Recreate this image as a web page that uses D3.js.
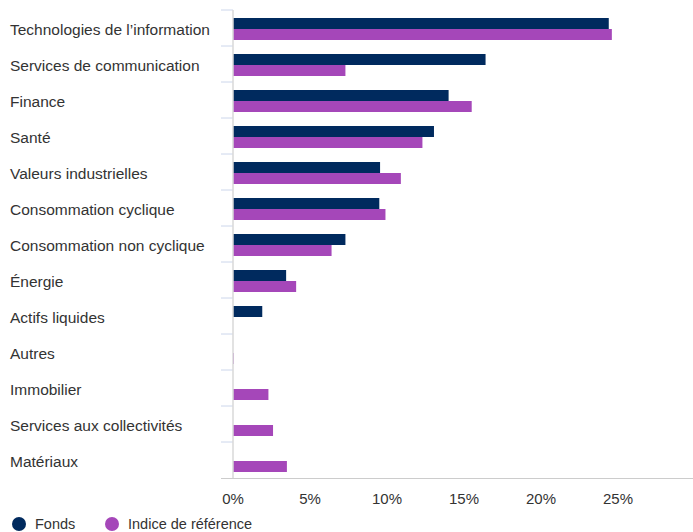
<!DOCTYPE html>
<html>
<head>
<meta charset="utf-8">
<script src="https://cdn.jsdelivr.net/npm/d3@7"></script>
<style>
  body { margin: 0; background: #fff; }
  text { font-family: "Liberation Sans", Arial, sans-serif; }
</style>
</head>
<body>
<div id="chart"></div>
<script>
// chart size
const width = 693,
      height = 532;

// data
const categories = [
    "Technologies de l\u2019information", "Services de communication", "Finance", "Santé",
    "Valeurs industrielles", "Consommation cyclique", "Consommation non cyclique", "Énergie",
    "Actifs liquides", "Autres", "Immobilier", "Services aux collectivités", "Matériaux"
];
const fonds = [24.4, 16.4, 14.0, 13.05, 9.55, 9.5, 7.3, 3.45, 1.9, 0, 0, 0, 0];
const indice = [24.6, 7.3, 15.5, 12.3, 10.9, 9.9, 6.4, 4.1, 0, 0.05, 2.3, 2.6, 3.5];
const seriesNames = ["Fonds", "Indice de référence"];
const seriesColors = ["#002A5E", "#A547B9"];
const xTicks = [0, 5, 10, 15, 20, 25];

const margin = { top: 10, right: 0, bottom: 54, left: 233 };

const svg = d3.select("#chart").append("svg")
    .attr("width", width)
    .attr("height", height);

const x = d3.scaleLinear()
    .domain([0, 30])
    .range([margin.left, margin.left + 462]);

const y = d3.scaleBand()
    .domain(categories)
    .range([margin.top, height - margin.bottom]);

const inner = d3.scaleBand()
    .domain([0, 1])
    .range([8, 30]);

// category boundary ticks on the left
svg.append("g").selectAll("line")
    .data(categories)
    .join("line")
    .attr("x1", 221)
    .attr("x2", margin.left)
    .attr("y1", d => y(d))
    .attr("y2", d => y(d))
    .attr("stroke", "#ccd6eb")
    .attr("stroke-width", 1);

// bottom axis line
svg.append("line")
    .attr("x1", 221)
    .attr("x2", width)
    .attr("y1", height - margin.bottom + 0.5)
    .attr("y2", height - margin.bottom + 0.5)
    .attr("stroke", "#cccccc");

// bars
const series = [fonds, indice];
series.forEach((vals, s) => {
    svg.append("g").selectAll("rect")
        .data(vals)
        .join("rect")
        .attr("x", x(0))
        .attr("y", (d, i) => y(categories[i]) + inner(s))
        .attr("width", d => x(d) - x(0))
        .attr("height", inner.bandwidth())
        .attr("fill", seriesColors[s]);
});

// left axis line
svg.append("line")
    .attr("x1", margin.left)
    .attr("x2", margin.left)
    .attr("y1", margin.top)
    .attr("y2", height - margin.bottom)
    .attr("stroke", "#d8d8d8")
    .attr("stroke-width", 1.5);

// category labels
svg.append("g").selectAll("text")
    .data(categories)
    .join("text")
    .attr("x", 10)
    .attr("y", d => y(d) + y.bandwidth() / 2 + 1.5)
    .attr("dy", "0.35em")
    .style("font-size", "15.5px")
    .style("fill", "#333")
    .text(d => d);

// x tick labels
svg.append("g").selectAll("text")
    .data(xTicks)
    .join("text")
    .attr("x", d => x(d))
    .attr("y", 504)
    .attr("text-anchor", "middle")
    .style("font-size", "15px")
    .style("fill", "#333")
    .text(d => d + "%");

// legend
const legendX = [19, 112];
seriesNames.forEach((name, i) => {
    svg.append("circle")
        .attr("cx", legendX[i])
        .attr("cy", 524)
        .attr("r", 7)
        .attr("fill", seriesColors[i]);
    svg.append("text")
        .attr("x", legendX[i] + 16)
        .attr("y", 529)
        .style("font-size", "14.5px")
        .style("fill", "#333")
        .text(name);
});
</script>
</body>
</html>
